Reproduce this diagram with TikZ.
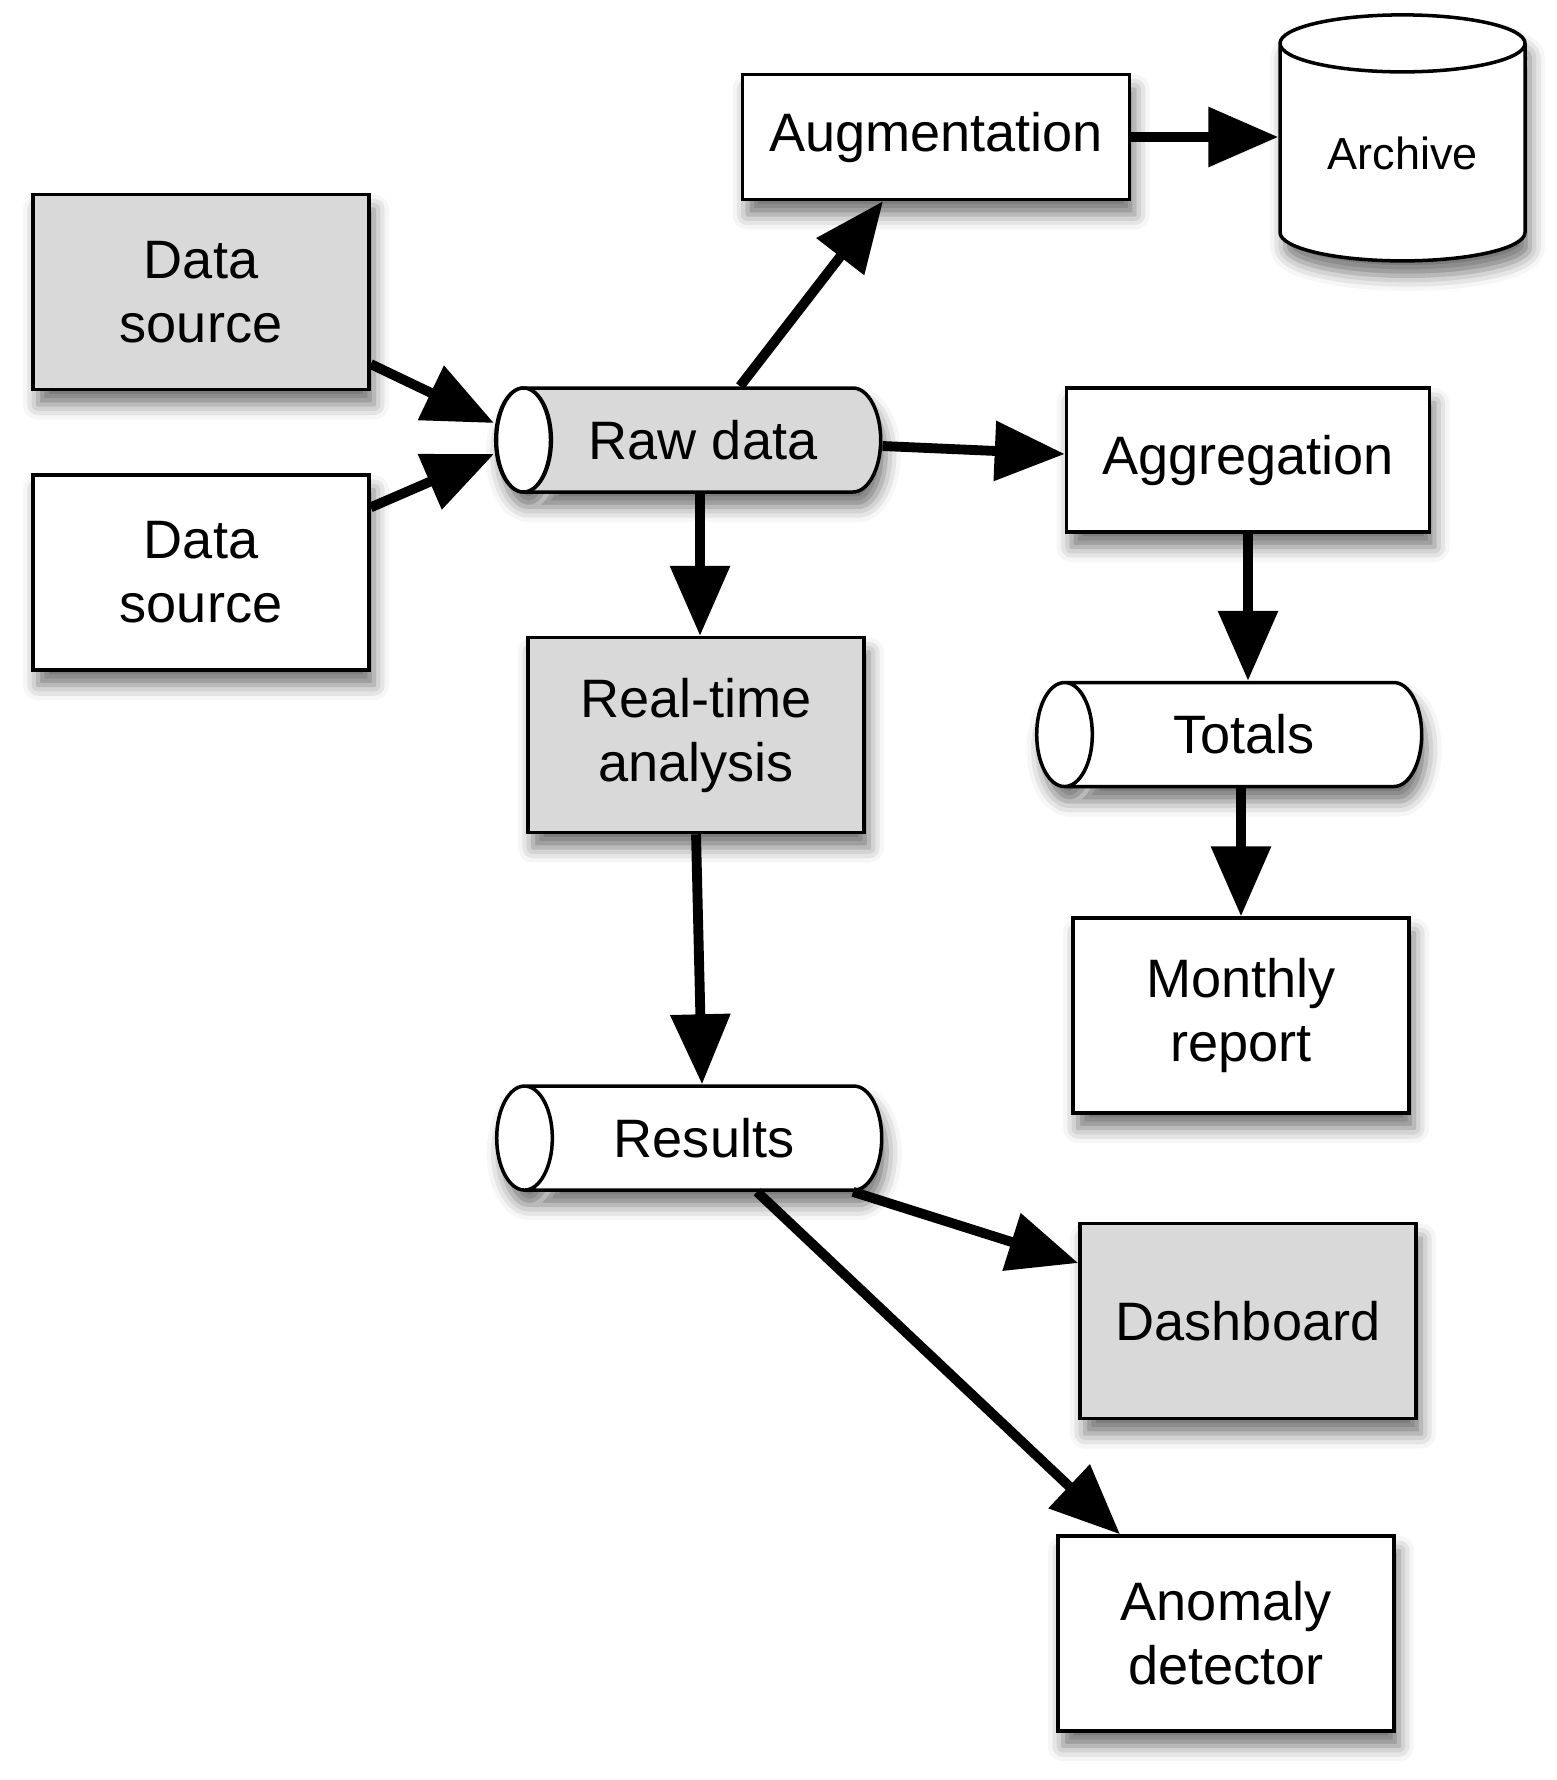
\documentclass[tikz,border=0pt]{standalone}
\usepackage{fontspec}
\setmainfont{Liberation Sans}
\usetikzlibrary{positioning, shapes.geometric, arrows.meta, shadows.blur, calc}

\definecolor{boxgray}{RGB}{217,217,217}

\tikzset{
    drop/.style={blur shadow={shadow xshift=0.5mm, shadow yshift=-1.5mm,
        shadow blur radius=1.5mm, shadow opacity=55}},
    box/.style={draw, line width=1pt, fill=white, minimum width=3.36cm,
        minimum height=1.95cm, inner sep=0pt, align=center, drop,
        font=\fontsize{15.4}{18.2}\selectfont},
    grey box/.style={box, fill=boxgray},
    % lying cylinder, open end to the left
    tube/.style={cylinder, shape border rotate=180, draw, line width=1pt,
        aspect=1.4, minimum height=3.85cm, minimum width=1.04cm, inner sep=0pt,
        fill=white, drop, font=\fontsize{15.4}{18.2}\selectfont},
    flow/.style={line width=2.8pt, -{Triangle[length=7mm, width=5.8mm]}},
}

\begin{document}
\begin{tikzpicture}[node distance=10pt]
    \useasboundingbox (0,0) rectangle (15.57,-17.80);

    \node[grey box] at (2.01,-2.92)                  (Data source 1) {Data\\source};
    \node[box, below=0.82cm of Data source 1]         (Data source 2) {Data\\source};

    \node[tube, fill=boxgray] at (7.03,-4.40)         (Raw data) {Raw data};
    % white end of the raw data tube
    \draw[line width=1pt, fill=white]
        ($(Raw data.before top)!0.5!(Raw data.after top)$) ellipse [x radius=0.27cm, y radius=0.52cm];
    \node[box, minimum width=3.87cm, minimum height=1.25cm] at (9.36,-1.37) (Augmentation) {Augmentation};
    \node[cylinder, shape border rotate=90, draw, line width=1pt, aspect=0.38,
          minimum width=2.45cm, minimum height=2.46cm, inner sep=0pt, fill=white, drop,
          font=\fontsize{12.8}{15}\selectfont,
          right=1.47cm of Augmentation, yshift=-0.16cm] (Archive) {Archive};
    \node[box, minimum width=3.63cm, minimum height=1.44cm] at (12.48,-4.60) (Aggregation) {Aggregation};

    \node[grey box, below=1.42cm of Raw data, xshift=-0.07cm]  (Real-time) {Real-time\\analysis};
    \node[tube, below=1.47cm of Aggregation, xshift=-0.04cm]   (Totals) {Totals};
    \node[box, below=1.28cm of Totals, xshift=-0.03cm]         (Monthly) {Monthly\\report};

    \node[tube, below=2.50cm of Real-time, xshift=0.08cm]      (Results) {Results};
    \node[grey box] at (12.48,-13.21)                          (Dashboard) {Dashboard};
    \node[box, below=1.14cm of Dashboard, xshift=-0.22cm]      (Anomaly) {Anomaly\\detector};

    % inputs
    \draw[flow] (Data source 1.-23.5) -- ([yshift=0.17cm]Raw data.west);
    \draw[flow] (Data source 2.21.7)  -- ([yshift=-0.14cm]Raw data.west);

    % out of the raw data
    \draw[flow] ([xshift=0.37cm]Raw data.north) -- ([xshift=-0.53cm]Augmentation.south);
    \draw[flow] (Augmentation.east) -- (Augmentation.east -| Archive.west);
    \draw[flow] ([yshift=-0.06cm]Raw data.east) -- ([yshift=0.06cm]Aggregation.west);
    \draw[flow] ([xshift=-0.03cm]Raw data.south) -- ([xshift=0.04cm]Real-time.north);

    \draw[flow] (Aggregation.south) -- (Aggregation.south |- Totals.north);
    \draw[flow] (Monthly.north |- Totals.south) -- (Monthly.north);

    \draw[flow] (Real-time.south) -- ([xshift=-0.02cm]Results.north);
    \draw[flow] ([xshift=1.49cm]Results.south) -- ([yshift=0.58cm]Dashboard.west);
    \draw[flow] ([xshift=0.53cm]Results.south) -- ([xshift=-1.06cm]Anomaly.north);
\end{tikzpicture}
\end{document}
